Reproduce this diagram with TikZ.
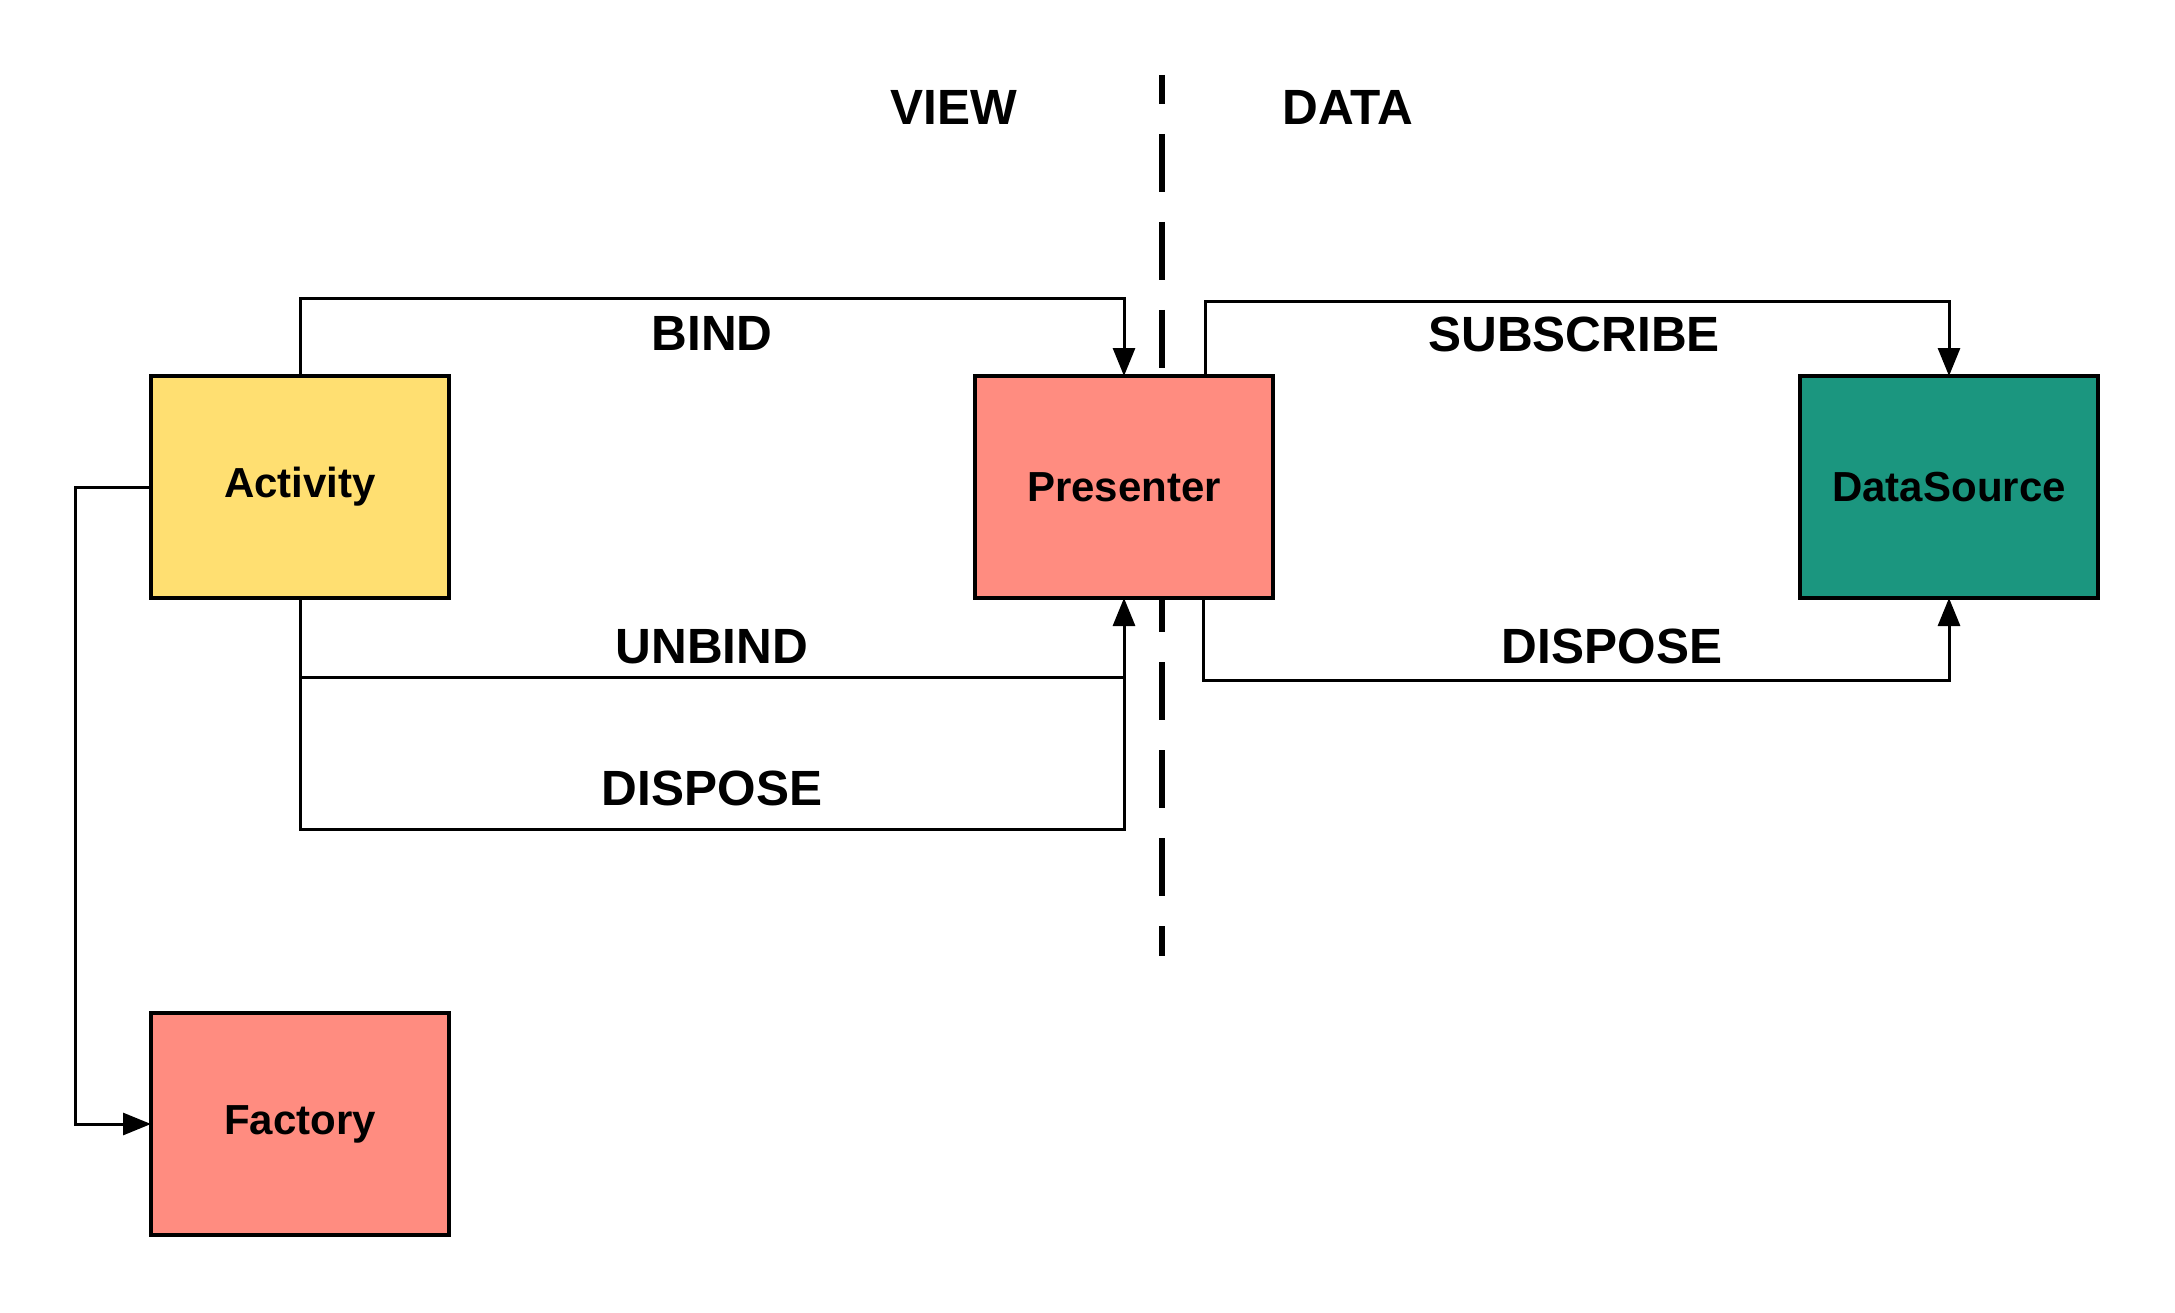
\documentclass[tikz,border=0pt]{standalone}
\usepackage{fontspec}
\setmainfont{Liberation Sans}
\usetikzlibrary{arrows.meta}
\definecolor{actyel}{RGB}{255,223,113}
\definecolor{salmon}{RGB}{255,140,128}
\definecolor{teal}{RGB}{27,150,127}
\tikzset{
  box/.style={draw=black, line width=4pt, minimum width=298pt, minimum height=222pt,
    inner sep=0pt, outer sep=0pt, font=\fontsize{42}{50}\selectfont\bfseries},
  conn/.style={draw=black, line width=3pt},
  arr/.style={conn, -{Triangle[length=28pt,width=22pt]}},
  lbl/.style={font=\fontsize{49.5}{58}\selectfont\bfseries, inner sep=0pt, text height=35.4pt, text depth=0pt},
  divider/.style={line width=6pt, dash pattern=on 58pt off 30pt, dash phase=29pt}
}
\begin{document}
\begin{tikzpicture}[x=1pt, y=-1pt]
\useasboundingbox (0,0) rectangle (2175,1313);
\fill[white] (0,0) rectangle (2175,1313);
% divider
\coordinate (dtop) at (1162,75);
\coordinate (dbot) at (1162,956);
\draw[divider] (dtop) -- (dbot);
% boxes
\node[box, fill=actyel] (act) at (300,487) {Activity};
\node[box, fill=salmon] (pres) at (1124,487) {Presenter};
\node[box, fill=teal] (ds) at (1949,487) {DataSource};
\node[box, fill=salmon] (fac) at (300,1124) {Factory};
% connectors
\draw[arr] (act.north) -- ++(0,-77) -| (pres.north);
\draw[arr] ([xshift=81pt]pres.north) -- ++(0,-74) -| (ds.north);
\draw[arr] ([xshift=79pt]pres.south) -- ++(0,82) -| (ds.south);
\draw[arr] (act.south) -- ++(0,231) -| (pres.south);
\coordinate (u) at (0,677);
\draw[conn] (act.south |- u) -- (pres.south |- u);
\draw[arr] (act.west) -- ++(-76,0) |- (fac.west);
% labels
\node[lbl] (view) at (954,107) {VIEW};
\node[lbl] (data) at (1348,107) {DATA};
\node[lbl] (bind) at (712,333) {BIND};
\node[lbl] (subs) at (1574,334) {SUBSCRIBE};
\node[lbl] (unbind) at (712,646) {UNBIND};
\node[lbl] (disp1) at (712,788) {DISPOSE};
\node[lbl] (disp2) at (1612,646) {DISPOSE};
\end{tikzpicture}
\end{document}
